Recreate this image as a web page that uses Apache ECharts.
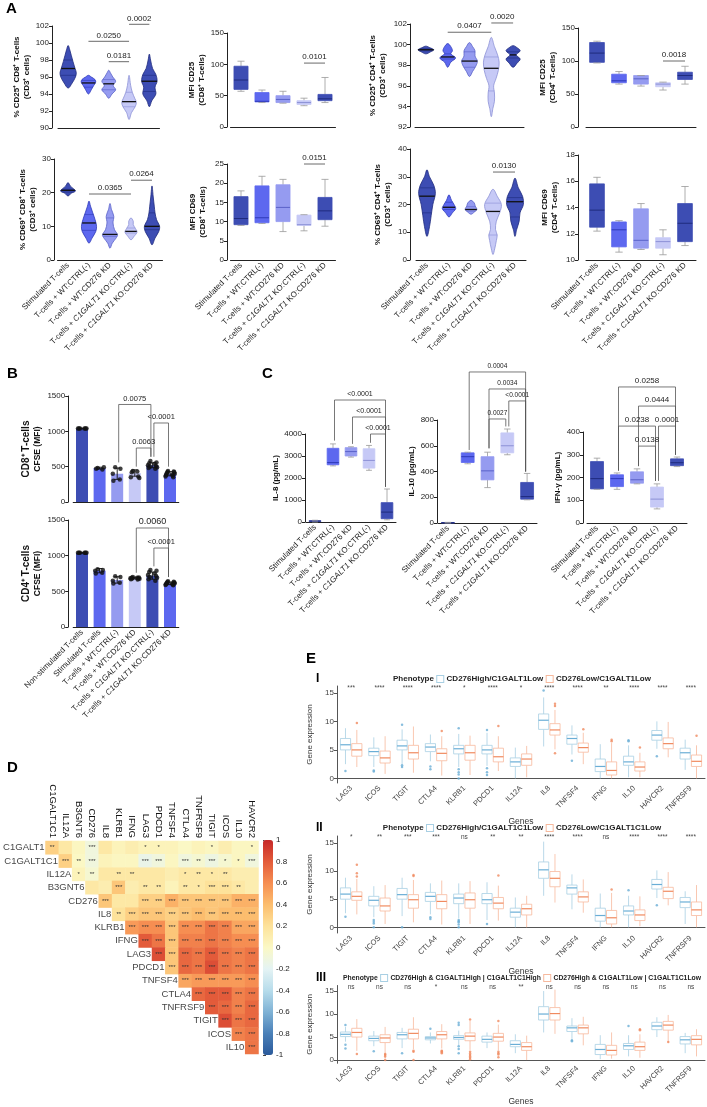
<!DOCTYPE html>
<html>
<head>
<meta charset="utf-8">
<script src="https://cdn.jsdelivr.net/npm/echarts@6/dist/echarts.min.js"></script>
<style>
html, body { margin: 0; padding: 0; background: #fff; }
#main { width: 707px; height: 1107px; }
</style>
</head>
<body>
<div id="main"></div>
<script>
const FONT = 'Liberation Sans, Arial, Helvetica, sans-serif';

// ---------- categories ----------
const groupsA = ['Stimulated T-cells', 'T-cells + WT:CTRL(-)', 'T-cells + WT:CD276 KD',
  'T-cells + {i|C1GALT1} KO:CTRL(-)', 'T-cells + {i|C1GALT1} KO:CD276 KD'];
const groupsB = ['Non-stimulated T-cells'].concat(groupsA);
const genesE = ['LAG3', 'ICOS', 'TIGIT', 'CTLA4', 'KLRB1', 'PDCD1', 'IL12A', 'IL8', 'TNFSF4', 'IFNG', 'IL10', 'HAVCR2', 'TNFRSF9'];
const colsD = ['C1GALT1C1', 'IL12A', 'B3GNT6', 'CD276', 'IL8', 'KLRB1', 'IFNG', 'LAG3', 'PDCD1', 'TNFSF4', 'CTLA4', 'TNFRSF9', 'TIGIT', 'ICOS', 'IL10', 'HAVCR2'];
const rowsD = ['C1GALT1', 'C1GALT1C1', 'IL12A', 'B3GNT6', 'CD276', 'IL8', 'KLRB1', 'IFNG', 'LAG3', 'PDCD1', 'TNFSF4', 'CTLA4', 'TNFRSF9', 'TIGIT', 'ICOS', 'IL10'];

// ---------- A: violins [min, Q1, median, Q3, max] + outline [value, relative half-width] ----------
const cd25cd8Pct = [[94.7, 96.2, 97.0, 98.0, 99.7], [94.0, 94.8, 95.3, 95.6, 96.2], [93.5, 94.5, 95.2, 95.7, 96.8], [91.0, 92.5, 93.1, 94.2, 96.2], [92.5, 94.3, 95.5, 96.2, 98.7]];
const cd25cd8Shape = [
  [[94.7, 0], [95.3, 0.5], [96, 0.9], [96.5, 1], [97, 0.85], [97.8, 0.6], [98.5, 0.4], [99.2, 0.2], [99.7, 0]],
  [[94, 0], [94.5, 0.35], [95, 0.65], [95.4, 0.9], [95.7, 0.8], [96, 0.35], [96.2, 0]],
  [[93.5, 0], [94, 0.4], [94.5, 0.85], [95, 0.55], [95.5, 0.85], [96, 0.5], [96.5, 0.2], [96.8, 0]],
  [[91, 0], [91.8, 0.3], [92.5, 0.75], [93, 0.9], [93.5, 0.7], [94.2, 0.4], [95, 0.2], [96.2, 0]],
  [[92.5, 0], [93.2, 0.3], [94, 0.8], [94.8, 0.7], [95.5, 0.95], [96.3, 0.8], [97, 0.4], [98, 0.15], [98.7, 0]]
];
const cd25cd4Pct = [[99.1, 99.4, 99.5, 99.6, 99.85], [97.8, 98.6, 98.8, 99.1, 100.1], [96.9, 97.8, 98.4, 99.3, 100.2], [93.0, 95.5, 97.7, 98.8, 100.7], [97.8, 98.7, 99.0, 99.3, 99.9]];
const cd25cd4Shape = [
  [[99.1, 0], [99.3, 0.6], [99.5, 1], [99.7, 0.5], [99.85, 0]],
  [[97.8, 0], [98.3, 0.4], [98.7, 1], [99.1, 0.4], [99.4, 0.6], [99.8, 0.4], [100.1, 0]],
  [[96.9, 0], [97.4, 0.4], [97.9, 0.8], [98.4, 1], [98.9, 0.7], [99.4, 0.7], [99.8, 0.4], [100.2, 0]],
  [[93, 0], [93.8, 0.2], [94.5, 0.4], [95.3, 0.4], [96, 0.3], [96.7, 0.6], [97.5, 0.9], [98.3, 1], [99, 0.8], [99.8, 0.4], [100.7, 0]],
  [[97.8, 0], [98.2, 0.5], [98.6, 0.9], [99, 0.4], [99.4, 0.9], [99.7, 0.5], [99.9, 0]]
];
const cd69cd8Pct = [[19, 20.2, 20.7, 21, 23], [5, 8.8, 11, 13.5, 17.5], [3.5, 7, 7.6, 12.5, 16.8], [6, 8, 8.5, 9.5, 12.5], [4.5, 9, 10, 14, 22]];
const cd69cd8Shape = [
  [[19, 0], [19.8, 0.4], [20.5, 1], [21.2, 0.7], [22, 0.3], [23, 0]],
  [[5, 0], [6.5, 0.4], [8.5, 0.9], [10, 1], [12, 0.8], [14, 0.5], [16, 0.2], [17.5, 0]],
  [[3.5, 0], [5, 0.3], [6.5, 0.8], [7.5, 1], [9, 0.6], [11, 0.4], [13, 0.5], [15, 0.2], [16.8, 0]],
  [[6, 0], [7, 0.4], [8.3, 0.8], [9.3, 0.6], [10.5, 0.3], [11.5, 0.3], [12.5, 0]],
  [[4.5, 0], [6.5, 0.4], [8.5, 0.9], [10, 1], [12, 0.6], [14, 0.4], [16, 0.3], [19, 0.15], [22, 0]]
];
const cd69cd4Pct = [[8.5, 17, 23, 26, 32.5], [15.5, 18.2, 19, 20.8, 23.5], [16.5, 17.6, 18.2, 19.2, 21.5], [2, 9, 17.5, 20.5, 25.5], [8.5, 15.5, 21, 22.5, 29.5]];
const cd69cd4Shape = [
  [[8.5, 0], [12, 0.3], [16, 0.5], [20, 0.7], [24, 1], [27, 0.8], [30, 0.3], [32.5, 0]],
  [[15.5, 0], [17, 0.4], [18.5, 0.8], [20, 0.6], [21.5, 0.3], [23.5, 0]],
  [[16.5, 0], [17.3, 0.4], [18.2, 0.7], [19.5, 0.5], [20.5, 0.4], [21.5, 0]],
  [[2, 0], [4, 0.2], [7, 0.4], [9, 0.5], [11, 0.3], [14, 0.4], [17, 0.8], [20, 1], [23, 0.5], [25.5, 0]],
  [[8.5, 0], [11, 0.2], [14, 0.5], [17, 0.6], [20, 1], [23, 0.9], [26, 0.4], [29.5, 0]]
];
// A: boxes [min, Q1, median, Q3, max]
const mfiCd25Cd8 = [[57, 60, 75, 97, 105], [39, 40, 41, 55, 59], [38, 39, 44, 50, 57], [34, 36, 39, 42, 46], [39, 42, 45, 52, 79]];
const mfiCd25Cd4 = [[97, 98, 112, 128, 130], [65, 67, 70, 80, 84], [62, 65, 73, 78, 78], [56, 61, 65, 67, 68], [65, 72, 78, 83, 92]];
const mfiCd69Cd8 = [[9, 9.2, 10.8, 16.5, 18], [9.5, 9.7, 11, 19.3, 21.8], [7.4, 10, 13.7, 19.6, 21], [7.6, 9, 9.2, 11.7, 11.8], [8.8, 10.5, 12.8, 16.3, 21]];
const mfiCd69Cd4 = [[12.2, 12.5, 13.8, 15.8, 16.3], [10.6, 11, 12.3, 12.9, 13], [10.8, 10.9, 11.5, 13.9, 14.3], [10.4, 10.9, 11.4, 11.7, 12.3], [11.1, 11.4, 12.8, 14.3, 15.6]];
// A: p-value lines [from, to, height]
const pA1 = [[1, 3, 100.2], [2, 3, 97.8], [3, 4, 102.2]], pA1Text = ['0.0250', '0.0181', '0.0002'];
const pA2 = [[3, 4, 102]], pA2Text = ['0.0101'];
const pA3 = [[1, 3, 101.2], [3, 4, 102.1]], pA3Text = ['0.0407', '0.0020'];
const pA4 = [[3, 4, 100]], pA4Text = ['0.0018'];
const pA5 = [[1, 3, 19.6], [3, 4, 23.7]], pA5Text = ['0.0365', '0.0264'];
const pA6 = [[3, 4, 25]], pA6Text = ['0.0151'];
const pA7 = [[3, 4, 31.7]], pA7Text = ['0.0130'];

// ---------- B: CFSE bars ----------
const cd8Mean = [1040, 480, 400, 410, 520, 400];
const cd8Sd = [5, 12, 80, 45, 35, 30];
const cd8Points = [[1040, 1040, 1040, 1040, 1040, 1040], [480, 490, 470, 460], [490, 470, 400, 320, 300],
  [440, 430, 420, 360, 350, 340], [580, 560, 550, 540, 520, 510, 500, 490, 480, 470],
  [440, 430, 425, 420, 410, 400, 395, 390, 380, 370, 360, 350]];
const cd4Mean = [1040, 790, 660, 685, 720, 612];
const cd4Sd = [5, 30, 45, 12, 50, 18];
const cd4Points = [[1040, 1040, 1040, 1040, 1040, 1040], [810, 800, 790, 760, 750], [710, 700, 650, 620, 610],
  [700, 695, 690, 690, 685, 680, 680, 675, 670, 665], [800, 790, 770, 750, 730, 720, 700, 690, 670, 650],
  [640, 635, 630, 625, 620, 615, 610, 605, 600, 595, 590, 585]];
// brackets [from, to, height, left leg end, right leg end]
const pB1 = [[2, 4, 1380, 560, 640], [4, 5, 1118, 640, 500], [3, 4, 764, 500, 640]], pB1Text = ['0.0075', '<0.0001', '0.0063'];
const pB2 = [[3, 5, 1388, 760, 700], [4, 5, 1107, 850, 700]], pB2Text = ['0.0060', '<0.0001'];

// ---------- C: cytokines [min, Q1, median, Q3, max] ----------
const il8 = [[0, 20, 40, 60, 80], [2550, 2600, 2700, 3350, 3550], [2950, 3000, 3200, 3380, 3420], [2350, 2450, 2800, 3330, 3480], [100, 150, 450, 880, 1500]];
const il10 = [[0, 0, 2, 4, 5], [460, 470, 515, 545, 550], [275, 335, 405, 515, 550], [530, 545, 600, 700, 730], [180, 185, 205, 315, 385]];
const ifng = [[148, 150, 195, 270, 285], [148, 160, 195, 212, 220], [172, 175, 190, 225, 238], [62, 70, 105, 158, 172], [248, 252, 265, 282, 290]];
const pC1 = [[1, 4, 5545, 3700, 1600], [2, 4, 4773, 3550, 1600], [3, 4, 4000, 3600, 1600]], pC1Text = ['<0.0001', '<0.0001', '<0.0001'];
const pC2 = [[1, 4, 1173, 567, 400], [2, 4, 1041, 580, 400], [3, 4, 948, 750, 400], [2, 3, 808, 580, 750]], pC2Text = ['0.0004', '0.0034', '<0.0001', '0.0027'];
const pC3 = [[1, 4, 598, 230, 300], [2, 4, 514, 250, 300], [1, 3, 426, 230, 185], [3, 4, 426, 185, 300], [2, 3, 338, 250, 185]], pC3Text = ['0.0258', '0.0444', '0.0238', '0.0001', '0.0138'];

// ---------- D: correlation (upper triangle, row i starts at column i) ----------
const corrD = [
  [0.3, 0.15, 0.02, -0.1, 0.15, 0.05, 0.1, 0.05, 0.05, 0.05, 0.0, 0.05, 0.02, 0.1, 0.02, 0.02],
  [0.3, 0.0, -0.1, 0.05, 0.02, 0.02, -0.15, -0.1, 0.02, -0.1, -0.05, -0.12, -0.05, 0.02, -0.1],
  [0.05, -0.05, 0.15, 0.15, 0.15, 0.15, 0.15, 0.1, 0.15, 0.15, 0.15, 0.15, 0.1, 0.1],
  [0.15, 0.1, 0.35, 0.1, 0.15, 0.15, 0.05, 0.15, 0.15, 0.2, 0.2, 0.15, 0.1],
  [0.35, 0.15, 0.15, 0.3, 0.3, 0.45, 0.35, 0.35, 0.35, 0.35, 0.45, 0.45],
  [0.2, 0.3, 0.35, 0.35, 0.3, 0.35, 0.4, 0.35, 0.4, 0.4, 0.4],
  [0.55, 0.6, 0.6, 0.35, 0.6, 0.6, 0.7, 0.65, 0.5, 0.5],
  [0.8, 0.7, 0.35, 0.65, 0.65, 0.7, 0.65, 0.6, 0.6],
  [0.85, 0.35, 0.75, 0.7, 0.8, 0.7, 0.65, 0.7],
  [0.35, 0.75, 0.7, 0.85, 0.7, 0.65, 0.7],
  [0.5, 0.55, 0.55, 0.55, 0.55, 0.6],
  [0.75, 0.8, 0.8, 0.65, 0.7],
  [0.8, 0.75, 0.65, 0.75],
  [0.85, 0.7, 0.75],
  [0.65, 0.7],
  [0.7]
];
const starsD = [
  ['**', '', '', '***', '', '', '', '*', '*', '', '', '', '*', '', '', '*'],
  ['***', '**', '***', '', '', '', '***', '***', '', '***', '**', '***', '*', '*', '***'],
  ['*', '**', '', '**', '**', '', '', '', '*', '**', '*', '**', '', ''],
  ['', '', '***', '', '**', '**', '', '**', '*', '***', '***', '**', ''],
  ['***', '', '', '***', '***', '***', '***', '***', '***', '***', '***', '***'],
  ['**', '***', '***', '***', '***', '***', '***', '***', '***', '***', '***'],
  ['***', '***', '***', '***', '***', '***', '***', '***', '***', '***'],
  ['***', '***', '***', '***', '***', '***', '***', '***', '***'],
  ['***', '***', '***', '***', '***', '***', '***', '***'],
  ['***', '***', '***', '***', '***', '***', '***'],
  ['***', '***', '***', '***', '***', '***'],
  ['***', '***', '***', '***', '***'],
  ['***', '***', '***', '***'],
  ['***', '***', '***'],
  ['***', '***'],
  ['***']
];

// ---------- E: gene expression boxes [min, Q1, median, Q3, max] ----------
const e1High = [[2.5, 5, 5.9, 7, 8.8], [2, 4, 4.7, 5.3, 7.2], [2.5, 5, 5.7, 6.7, 8.6], [3, 4.7, 5.5, 6.1, 7.7], [2, 4.3, 5.2, 5.8, 7.8], [2.2, 4.3, 5, 5.8, 8], [0, 2.1, 2.9, 3.6, 5.4], [5.6, 8.6, 10.2, 11.3, 14.2], [4.2, 6, 7, 7.6, 9.3], [0, 1.2, 2.1, 3.4, 6.0], [0.2, 2.3, 2.9, 3.9, 5.8], [5.2, 6.7, 7.6, 8.4, 10], [1.5, 3.4, 4.5, 5.3, 6.8]];
const e1Low = [[2, 3.9, 5, 6.1, 8.5], [0.8, 2.7, 3.6, 4.8, 7.4], [1, 3.4, 4.5, 5.8, 9.1], [0.5, 3.1, 4.4, 5.2, 7.4], [0.6, 3.2, 4.5, 5.8, 7.5], [1.3, 2.9, 3.8, 5.3, 7.4], [0.2, 2.3, 3.4, 4.3, 5.7], [5.1, 7.6, 8.5, 9.6, 12], [2.5, 4.6, 5.4, 6.2, 8], [0, 0.6, 1.4, 2.9, 6.2], [0.2, 1.3, 2, 2.9, 4.5], [3.7, 5.2, 6.1, 7.1, 9.9], [0, 2.1, 3, 4.1, 5.8]];
const e1HighOut = [[0, 1.3], [1, 1.2], [1, 1.4], [2, 2.0], [2, 2.3], [2, 9.4], [3, 1.6], [3, 2.1], [4, 0], [4, 0.7], [4, 1.1], [4, 1.6], [4, 8.8], [5, 0.6], [5, 1.1], [5, 1.8], [5, 8.5], [7, 15.4], [8, 3.1], [10, 6.5], [10, 6.7], [11, 3.9]];
const e1LowOut = [[0, 9.7], [3, 8.3], [5, 9.2], [7, 4.4], [7, 12.7], [7, 13.1], [8, 8.6], [9, 6.5], [9, 6.8], [10, 5.4], [12, 7.5]];
const e1Stars = ['***', '****', '****', '****', '*', '****', '*', '****', '****', '**', '****', '****', '****'];

const e2High = [[2.5, 5, 5.9, 7, 8.8], [1.8, 3.8, 4.8, 5.5, 7.3], [2, 5, 5.8, 6.9, 8.8], [2.3, 4.6, 5.5, 6.2, 7.8], [1.6, 4.2, 5.2, 5.9, 7.8], [1.3, 4.2, 4.9, 6.0, 8.0], [0, 1.8, 2.7, 3.4, 5.3], [5.6, 8.7, 10.2, 11.6, 15.2], [3.2, 5.9, 7, 7.5, 9.4], [0, 1.1, 2.1, 3.4, 6], [0, 2.2, 2.9, 3.8, 5.6], [5.2, 6.8, 7.6, 8.5, 10.1], [0.6, 3.5, 4.5, 5.3, 6.4]];
const e2Low = [[2.3, 4.8, 5.5, 6.3, 8.6], [0.6, 2.9, 3.8, 5.2, 7.5], [0.9, 3.4, 4.9, 5.8, 8.4], [0.5, 3.3, 4.6, 5.8, 8.3], [0.6, 3.4, 4.9, 6.1, 8.2], [1.2, 3.3, 4.3, 5.3, 7.4], [0, 2.2, 3.3, 4.1, 5.6], [4.4, 7.2, 8.7, 9.9, 13], [2.6, 4.5, 5.4, 6.3, 8.5], [0, 0.6, 1.7, 3.0, 6.1], [0.2, 1.2, 2.2, 3.1, 5.5], [3.9, 5.1, 6.4, 7.1, 9.8], [0, 2.1, 3.1, 4.5, 7.5]];
const e2HighOut = [[0, 1.9], [1, 0], [1, 0.7], [1, 1.0], [1, 1.3], [2, 0], [3, 1.5], [3, 1.8], [4, 0], [4, 0.5], [4, 0.9], [4, 1.1], [4, 1.3], [5, 0.6], [10, 6.6], [11, 3.9]];
const e2LowOut = [[0, 9.0], [0, 9.6], [0, 11.1], [2, 9.1], [2, 9.3], [5, 9.2], [9, 6.7]];
const e2Stars = ['*', '**', '***', '***', 'ns', '**', '**', '****', '****', 'ns', '****', '****', '****'];

const e3High = [[4, 5.1, 5.6, 6.1, 7.2], [3, 4.2, 4.7, 5.2, 6.3], [2.6, 4.6, 5.5, 6.0, 7.0], [3.6, 4.4, 4.8, 5.1, 6.0], [3.2, 4.5, 4.9, 5.3, 6.4], [2.6, 3.9, 4.5, 5.2, 6.0], [1.5, 2.9, 3.4, 4.2, 5.6], [6, 8.7, 10, 11.6, 15], [4.6, 6.2, 7.0, 7.4, 9.1], [0.2, 1.2, 2.3, 3.4, 5.4], [0.8, 2.3, 3.1, 3.6, 5.4], [5, 6.6, 7.4, 8.2, 9.3], [1.5, 3.5, 4.4, 5.1, 5.9]];
const e3Low = [[2, 5, 6, 6.9, 8.9], [0.3, 3.8, 4.8, 5.5, 7.2], [2.4, 4.6, 5.8, 6.7, 9.3], [2.5, 4.6, 5.5, 6.2, 7.8], [2.2, 4.2, 5.2, 5.9, 8.5], [2.1, 4.1, 5.0, 5.8, 7.7], [0, 2.1, 2.9, 3.8, 5.3], [5.7, 8.7, 10.1, 11.4, 15.3], [3.2, 5.7, 7.0, 7.6, 9.4], [0.3, 1.1, 2.1, 3.2, 6.0], [0.5, 2.1, 2.9, 3.9, 5.6], [3.8, 6.5, 7.6, 8.4, 9.8], [0.8, 3.3, 4.5, 5.3, 6.7]];
const e3HighOut = [[0, 2.5], [0, 3.3], [0, 7.6], [1, 1.9], [2, 1.5], [3, 6.8], [4, 1.5], [4, 2.4], [4, 3.0], [4, 7.6], [4, 8.1], [8, 4.1], [8, 4.3], [10, 7.4]];
const e3LowOut = [[0, 1.3], [1, 0], [1, 0.8], [1, 1.1], [1, 1.3], [2, 0], [2, 1.8], [2, 2.0], [3, 1.5], [3, 1.7], [3, 1.9], [3, 2.0], [4, 0.2], [4, 0.5], [4, 0.8], [4, 1.1], [4, 1.4], [4, 1.8], [4, 8.8], [5, 0.6], [5, 1.2], [5, 1.5], [5, 1.8], [5, 8.5], [10, 6.5], [10, 6.7], [11, 3.9]];
const e3Stars = ['ns', 'ns', 'ns', '*', 'ns', 'ns', '**', 'ns', 'ns', 'ns', 'ns', 'ns', 'ns'];

// ---------- colours ----------
const fillA = ['#3d4db3', '#5d68ef', '#959bf0', '#c6c9f6', '#3d4db3'];
const lineA = ['#1f2b7d', '#2f3ab8', '#5a62c8', '#8c91d6', '#1f2b7d'];
const fillB = ['#3d4db3', '#5d68ef', '#959bf0', '#c6c9f6', '#3d4db3', '#5d68ef'];
const corrColors = ['#2b5a9b', '#4a80b8', '#7fb2d5', '#b7dceb', '#e4f3f4', '#fbf8c5', '#fde29a', '#fcbd6e', '#f68e52', '#e35b3a', '#c62828'];

// ---------- builders ----------
const grid = [], xAxis = [], yAxis = [], series = [];
function addGrid(box, xa, ya) {
  const gi = grid.length;
  grid.push(box);
  xa.gridIndex = gi; ya.gridIndex = gi;
  xAxis.push(xa); yAxis.push(ya);
  return gi;
}

function prism(b, cats, labels, y) {
  return addGrid({ left: b.l, top: b.t, width: b.w, height: b.b - b.t }, {
    type: 'category', data: cats,
    axisLine: { lineStyle: { color: '#222' } },
    axisTick: { alignWithLabel: true, length: 3, lineStyle: { color: '#222' } },
    axisLabel: labels ? { interval: 0, rotate: 45, fontSize: 8, color: '#222', margin: 4, fontFamily: FONT,
      rich: { i: { fontStyle: 'italic', fontSize: 8, color: '#222', fontFamily: FONT } } } : { show: false },
    splitLine: { show: false }
  }, {
    type: 'value', min: y.min, max: y.max, interval: y.step, offset: b.off || 0,
    axisLine: { show: true, lineStyle: { color: '#222' } },
    axisTick: { show: true, length: 3, lineStyle: { color: '#222' } },
    axisLabel: { fontSize: 8, color: '#222', margin: 3, fontFamily: FONT, formatter: v => String(v) },
    splitLine: { show: false },
    name: y.name, nameLocation: 'middle', nameGap: y.gap,
    nameTextStyle: { fontSize: 8, fontWeight: 'bold', color: '#111', lineHeight: 10, fontFamily: FONT, rich: y.rich }
  });
}

function violins(gi, stats, shapes, half) {
  series.push({
    type: 'custom', xAxisIndex: gi, yAxisIndex: gi, z: 3, silent: true,
    data: stats.map((s, i) => [i].concat(s)),
    renderItem(params, api) {
      const k = params.dataIndex;
      const i = api.value(0);
      const band = api.size([1, 0])[0];
      const cx = api.coord([i, 0])[0];
      const w = band * half;
      const sh = shapes[k];
      const yy = v => api.coord([i, v])[1];
      const right = sh.map(p => [cx + p[1] * w, yy(p[0])]);
      const left = sh.slice(1, -1).reverse().map(p => [cx - p[1] * w, yy(p[0])]);
      const widthAt = v => {
        for (let j = 1; j < sh.length; j++) {
          if (v <= sh[j][0]) {
            const a = sh[j - 1], c = sh[j];
            const t = (v - a[0]) / (c[0] - a[0]);
            return (a[1] + t * (c[1] - a[1])) * w;
          }
        }
        return 0;
      };
      const hl = (v, col, lw) => {
        const h = widthAt(v);
        return { type: 'line', shape: { x1: cx - h, y1: yy(v), x2: cx + h, y2: yy(v) }, style: { stroke: col, lineWidth: lw } };
      };
      return { type: 'group', children: [
        { type: 'polygon', shape: { points: right.concat(left), smooth: 0.35 }, style: { fill: fillA[k], stroke: lineA[k], lineWidth: 0.8 } },
        hl(api.value(2), lineA[k], 0.6), hl(api.value(4), lineA[k], 0.6), hl(api.value(3), '#111', 1.3)
      ] };
    }
  });
}

function boxes(gi, stats, st) {
  series.push({
    type: 'custom', xAxisIndex: gi, yAxisIndex: gi, z: 3, silent: true,
    data: stats.map((s, i) => [i].concat(s)),
    renderItem(params, api) {
      const k = params.dataIndex;
      const pick = v => Array.isArray(v) ? v[k] : v;
      const i = api.value(0);
      const band = api.size([1, 0])[0];
      const cx = api.coord([i, 0])[0] + (st.shift || 0) * band;
      const hw = band * st.width / 2;
      const y = d => api.coord([i, api.value(d)])[1];
      const yMin = y(1), yQ1 = y(2), yMed = y(3), yQ3 = y(4), yMax = y(5);
      const ws = { stroke: pick(st.whisker), lineWidth: 0.8 };
      const ch = [
        { type: 'line', shape: { x1: cx, y1: yQ3, x2: cx, y2: yMax }, style: ws },
        { type: 'line', shape: { x1: cx, y1: yQ1, x2: cx, y2: yMin }, style: ws },
        { type: 'rect', shape: { x: cx - hw, y: yQ3, width: 2 * hw, height: Math.max(yQ1 - yQ3, 0.5) },
          style: { fill: pick(st.fill), stroke: pick(st.border), lineWidth: 0.8 } },
        { type: 'line', shape: { x1: cx - hw, y1: yMed, x2: cx + hw, y2: yMed }, style: { stroke: pick(st.median), lineWidth: st.medW || 1 } }
      ];
      if (st.caps) {
        const c = hw * 0.5;
        ch.push({ type: 'line', shape: { x1: cx - c, y1: yMax, x2: cx + c, y2: yMax }, style: ws });
        ch.push({ type: 'line', shape: { x1: cx - c, y1: yMin, x2: cx + c, y2: yMin }, style: ws });
      }
      return { type: 'group', children: ch };
    }
  });
}

function brackets(gi, items, texts, fs, legs) {
  series.push({
    type: 'custom', xAxisIndex: gi, yAxisIndex: gi, z: 4, silent: true, clip: false,
    data: items.map(d => legs ? d : [d[0], d[1], d[2], d[2], d[2]]),
    renderItem(params, api) {
      const k = params.dataIndex;
      const x1 = api.coord([api.value(0), 0])[0] + (legs ? 1.5 : 0);
      const x2 = api.coord([api.value(1), 0])[0] - (legs ? 1.5 : 0);
      const yT = api.coord([0, api.value(2)])[1];
      const l1 = api.coord([0, api.value(3)])[1];
      const l2 = api.coord([0, api.value(4)])[1];
      const f = Array.isArray(fs) ? fs[k] : fs;
      return { type: 'group', children: [
        { type: 'polyline', shape: { points: [[x1, l1], [x1, yT], [x2, yT], [x2, l2]] }, style: { stroke: legs ? '#555' : '#444', lineWidth: 0.8, fill: 'none' } },
        { type: 'text', style: { text: texts[k], x: (x1 + x2) / 2, y: yT - 2, align: 'center', verticalAlign: 'bottom', fontSize: f, fontFamily: FONT, fill: '#222' } }
      ] };
    }
  });
}

// ---------- panel A ----------
const gA1 = prism({ l: 58, t: 26, w: 101.5, b: 128, off: 6 }, groupsA, false, { min: 90, max: 102, step: 2, name: '% CD25⁺ CD8⁺ T-cells\n(CD3⁺ cells)', gap: 16 });
violins(gA1, cd25cd8Pct, cd25cd8Shape, 0.4);
brackets(gA1, pA1, pA1Text, 8, false);

const gA2 = prism({ l: 230.5, t: 33, w: 105, b: 127, off: 3.5 }, groupsA, false, { min: 0, max: 150, step: 50, name: 'MFI CD25\n(CD8⁺ T-cells)', gap: 19 });
boxes(gA2, mfiCd25Cd8, { width: 0.67, fill: fillA, border: fillA, median: lineA, whisker: '#999', caps: true });
brackets(gA2, pA2, pA2Text, 8, false);

const gA3 = prism({ l: 415, t: 24, w: 109, b: 127, off: 5 }, groupsA, false, { min: 92, max: 102, step: 2, name: '% CD25⁺ CD4⁺ T-cells\n(CD3⁺ cells)', gap: 22 });
violins(gA3, cd25cd4Pct, cd25cd4Shape, 0.36);
brackets(gA3, pA3, pA3Text, 8, false);

const gA4 = prism({ l: 586, t: 28, w: 110, b: 127, off: 8 }, groupsA, false, { min: 0, max: 150, step: 50, name: 'MFI CD25\n(CD4⁺ T-cells)', gap: 16 });
boxes(gA4, mfiCd25Cd4, { width: 0.67, fill: fillA, border: fillA, median: lineA, whisker: '#999', caps: true });
brackets(gA4, pA4, pA4Text, 8, false);

const gA5 = prism({ l: 57.5, t: 159, w: 105, b: 260, off: 3.5 }, groupsA, true, { min: 0, max: 30, step: 10, name: '% CD69⁺ CD8⁺ T-cells\n(CD3⁺ cells)', gap: 16 });
violins(gA5, cd69cd8Pct, cd69cd8Shape, 0.36);
brackets(gA5, pA5, pA5Text, 8, false);

const gA6 = prism({ l: 230.5, t: 164, w: 105, b: 260, off: 3.5 }, groupsA, true, { min: 0, max: 25, step: 5, name: 'MFI CD69\n(CD8⁺ T-cells)', gap: 19 });
boxes(gA6, mfiCd69Cd8, { width: 0.67, fill: fillA, border: fillA, median: lineA, whisker: '#999', caps: true });
brackets(gA6, pA6, pA6Text, 8, false);

const gA7 = prism({ l: 416, t: 149, w: 110, b: 260, off: 6 }, groupsA, true, { min: 0, max: 40, step: 10, name: '% CD69⁺ CD4⁺ T-cells\n(CD3⁺ cells)', gap: 17 });
violins(gA7, cd69cd4Pct, cd69cd4Shape, 0.38);
brackets(gA7, pA7, pA7Text, 8, false);

const gA8 = prism({ l: 586, t: 155, w: 110, b: 260, off: 8 }, groupsA, true, { min: 10, max: 18, step: 2, name: 'MFI CD69\n(CD4⁺ T-cells)', gap: 18 });
boxes(gA8, mfiCd69Cd4, { width: 0.67, fill: fillA, border: fillA, median: lineA, whisker: '#999', caps: true });

// ---------- panel B ----------
function cfsePanel(gi, means, sd, pts) {
  series.push({
    type: 'bar', xAxisIndex: gi, yAxisIndex: gi, barWidth: '68%', silent: true,
    data: means.map((v, i) => ({ value: v, itemStyle: { color: fillB[i] } }))
  });
  series.push({
    type: 'custom', xAxisIndex: gi, yAxisIndex: gi, z: 4, silent: true,
    data: means.map((v, i) => [i, v, sd[i]]),
    renderItem(params, api) {
      const i = api.value(0), m = api.value(1), s = api.value(2);
      const top = api.coord([i, m + s]), bot = api.coord([i, m - s]);
      const st = { stroke: '#111', lineWidth: 0.9 };
      return { type: 'group', children: [
        { type: 'line', shape: { x1: top[0], y1: top[1], x2: bot[0], y2: bot[1] }, style: st },
        { type: 'line', shape: { x1: top[0] - 3, y1: top[1], x2: top[0] + 3, y2: top[1] }, style: st },
        { type: 'line', shape: { x1: bot[0] - 3, y1: bot[1], x2: bot[0] + 3, y2: bot[1] }, style: st }
      ] };
    }
  });
  const data = [];
  pts.forEach((g, i) => g.forEach((v, k) => {
    const dx = g.length > 1 ? (k % 2 ? 1 : -1) * (2 + 3 * ((k * 7) % g.length) / g.length) : 0;
    data.push({ value: [i, v], symbolOffset: [dx, 0] });
  }));
  series.push({ type: 'scatter', xAxisIndex: gi, yAxisIndex: gi, z: 5, silent: true, symbolSize: 4.5, itemStyle: { color: '#111' }, data });
}
const gB1 = prism({ l: 73.2, t: 396, w: 105.6, b: 502, off: 5 }, groupsB, false, { min: 0, max: 1500, step: 500,
  name: '{a|CD8⁺ T-cells}\n{b|CFSE (MFI)}', gap: 24, rich: { a: { fontSize: 10, fontWeight: 'bold', fontFamily: FONT, lineHeight: 12 }, b: { fontSize: 8.5, fontWeight: 'bold', fontFamily: FONT, lineHeight: 11 } } });
cfsePanel(gB1, cd8Mean, cd8Sd, cd8Points);
brackets(gB1, pB1, pB1Text, 7.5, true);

const gB2 = prism({ l: 73.2, t: 520, w: 105.6, b: 627, off: 5 }, groupsB, true, { min: 0, max: 1500, step: 500,
  name: '{a|CD4⁺ T-cells}\n{b|CFSE (MFI)}', gap: 24, rich: { a: { fontSize: 10, fontWeight: 'bold', fontFamily: FONT, lineHeight: 12 }, b: { fontSize: 8.5, fontWeight: 'bold', fontFamily: FONT, lineHeight: 11 } } });
cfsePanel(gB2, cd4Mean, cd4Sd, cd4Points);
brackets(gB2, pB2, pB2Text, [9, 7.5], true);

// ---------- panel C ----------
const gC1 = prism({ l: 306, t: 434, w: 90, b: 522, off: 1 }, groupsA, true, { min: 0, max: 4000, step: 1000, name: 'IL-8 (pg/mL)', gap: 22 });
boxes(gC1, il8, { width: 0.65, fill: fillA, border: fillA, median: lineA, whisker: '#999', caps: true });
brackets(gC1, pC1, pC1Text, 7, true);

const gC2 = prism({ l: 438, t: 420, w: 99, b: 523, off: 1 }, groupsA, true, { min: 0, max: 800, step: 200, name: 'IL-10 (pg/mL)', gap: 16 });
boxes(gC2, il10, { width: 0.65, fill: fillA, border: fillA, median: lineA, whisker: '#999', caps: true });
brackets(gC2, pC2, pC2Text, 6.5, true);

const gC3 = prism({ l: 587, t: 432, w: 100, b: 523, off: 4 }, groupsA, true, { min: 0, max: 400, step: 100, name: 'IFN-γ (pg/mL)', gap: 20 });
boxes(gC3, ifng, { width: 0.65, fill: fillA, border: fillA, median: lineA, whisker: '#999', caps: true });
brackets(gC3, pC3, pC3Text, 8, true);

// ---------- panel D ----------
const gD = addGrid({ left: 45.5, top: 841, width: 213, height: 213 }, {
  type: 'category', data: colsD, position: 'top',
  axisLine: { show: false }, axisTick: { show: false }, splitLine: { show: false },
  axisLabel: { interval: 0, rotate: 90, fontSize: 9.5, color: '#111', margin: 3, fontFamily: FONT }
}, {
  type: 'category', data: rowsD, inverse: true,
  axisLine: { show: false }, axisTick: { show: false }, axisLabel: { show: false }, splitLine: { show: false }
});
const heatData = [];
corrD.forEach((row, r) => row.forEach((v, k) => {
  heatData.push({ value: [r + k, r, v], label: { formatter: starsD[r][k] || ' ' } });
}));
const heatIdx = series.length;
series.push({
  type: 'heatmap', xAxisIndex: gD, yAxisIndex: gD, data: heatData, silent: true,
  itemStyle: { borderWidth: 0 },
  label: { show: true, fontSize: 6, color: '#333', fontFamily: FONT }
});
series.push({
  type: 'scatter', xAxisIndex: gD, yAxisIndex: gD, silent: true, symbolSize: 1, itemStyle: { color: 'transparent' },
  data: rowsD.map((r, i) => [i, i]),
  label: { show: true, position: 'left', distance: 7, formatter: p => rowsD[p.dataIndex], fontSize: 9.5, color: '#111', fontFamily: FONT }
});
addGrid({ left: 263, top: 840, width: 10, height: 215 }, { type: 'value', show: false, min: 0, max: 1 }, {
  type: 'value', position: 'right', min: -1, max: 1, interval: 0.2,
  axisLine: { show: false }, axisTick: { show: true, length: 3, lineStyle: { color: '#444' } }, splitLine: { show: false },
  axisLabel: { fontSize: 8, color: '#222', margin: 3, fontFamily: FONT, formatter: v => String(Math.round(v * 10) / 10) }
});

// ---------- panel E ----------
function ePanel(t, b, yMin) {
  return addGrid({ left: 337, top: t, width: 368, height: b - t }, {
    type: 'category', data: genesE,
    axisLine: { lineStyle: { color: '#555' } },
    axisTick: { alignWithLabel: true, length: 3, lineStyle: { color: '#555' } },
    axisLabel: { interval: 0, rotate: 45, fontSize: 7.5, color: '#444', margin: 4, fontFamily: FONT },
    name: 'Genes', nameLocation: 'middle', nameGap: 24, nameTextStyle: { fontSize: 8.5, color: '#333', fontFamily: FONT }
  }, {
    type: 'value', min: yMin, max: 16.2,
    axisLine: { show: true, lineStyle: { color: '#555' } },
    axisTick: { show: true, length: 3, customValues: [0, 5, 10, 15], lineStyle: { color: '#555' } },
    axisLabel: { customValues: [0, 5, 10, 15], fontSize: 8, color: '#444', margin: 3, fontFamily: FONT },
    splitLine: { show: false },
    name: 'Gene expression', nameLocation: 'middle', nameGap: 11, nameTextStyle: { fontSize: 8, color: '#333', fontFamily: FONT }
  });
}
function eSeries(gi, high, low, highOut, lowOut, stars) {
  boxes(gi, high, { width: 0.36, shift: -0.2, fill: '#fff', border: '#a8cfe3', median: '#6aaed6', whisker: '#a8cfe3', medW: 1.2 });
  boxes(gi, low, { width: 0.36, shift: 0.2, fill: '#fff', border: '#f7b99d', median: '#f08a5f', whisker: '#f7b99d', medW: 1.2 });
  series.push({ type: 'scatter', xAxisIndex: gi, yAxisIndex: gi, silent: true, symbolSize: 2.5, symbolOffset: [-5.7, 0], itemStyle: { color: '#6aaed6' }, data: highOut, z: 4 });
  series.push({ type: 'scatter', xAxisIndex: gi, yAxisIndex: gi, silent: true, symbolSize: 2.5, symbolOffset: [5.7, 0], itemStyle: { color: '#f08a5f' }, data: lowOut, z: 4 });
  series.push({
    type: 'custom', xAxisIndex: gi, yAxisIndex: gi, silent: true, clip: false,
    data: stars.map((s, i) => [i, 15.9]),
    renderItem(params, api) {
      const p = api.coord([api.value(0), api.value(1)]);
      return { type: 'text', style: { text: stars[params.dataIndex], x: p[0], y: p[1], align: 'center', verticalAlign: 'middle', fontSize: 6.5, fill: '#444', fontFamily: FONT } };
    }
  });
}
const gE1 = ePanel(686, 783, -0.8);
eSeries(gE1, e1High, e1Low, e1HighOut, e1LowOut, e1Stars);
const gE2 = ePanel(836, 933, -1);
eSeries(gE2, e2High, e2Low, e2HighOut, e2LowOut, e2Stars);
const gE3 = ePanel(985.5, 1075.5, -0.7);
eSeries(gE3, e3High, e3Low, e3HighOut, e3LowOut, e3Stars);

// ---------- text ----------
function letter(t, x, y, fs) {
  return { type: 'text', x, y, silent: true, style: { text: t, fontSize: fs || 15, fontWeight: 'bold', fill: '#000', fontFamily: FONT, align: 'left', verticalAlign: 'top' } };
}
function legend(y, a, b, fs) {
  const box = c => ({ width: 6, height: 6, borderColor: c, borderWidth: 1, backgroundColor: '#fff' });
  const ts = { fontSize: fs, fontWeight: 'bold', fill: '#222', fontFamily: FONT };
  return { type: 'text', x: 522, y, silent: true, style: {
    text: '{p|Phenotype} {bx| } {t|' + a + '} {ox| } {t|' + b + '}', align: 'center', verticalAlign: 'middle',
    rich: { p: ts, t: ts, bx: box('#a8cfe3'), ox: box('#f7b99d') } } };
}
const graphic = [
  letter('A', 6, 1), letter('B', 7, 366), letter('C', 262, 366), letter('D', 7, 760), letter('E', 306, 651),
  letter('I', 316, 673, 12), letter('II', 316, 822, 12), letter('III', 316, 972, 12),
  legend(679, 'CD276High/C1GALT1Low', 'CD276Low/C1GALT1Low', 8),
  legend(828, 'CD276High/C1GALT1C1Low', 'CD276Low/C1GALT1C1Low', 8),
  legend(978, 'CD276High & C1GALT1High | C1GALT1C1High', 'CD276High & C1GALT1Low | C1GALT1C1Low', 6.8)
];

const chart = echarts.init(document.getElementById('main'));
chart.setOption({
  animation: false,
  backgroundColor: '#fff',
  textStyle: { fontFamily: FONT },
  grid, xAxis, yAxis, series, graphic,
  visualMap: [{
    type: 'continuous', min: -1, max: 1, seriesIndex: heatIdx, dimension: 2,
    orient: 'vertical', left: 263, top: 840, itemWidth: 10, itemHeight: 215, padding: 0,
    text: ['', ''], showLabel: false, calculable: false, hoverLink: false,
    inRange: { color: corrColors }
  }]
});
</script>
</body>
</html>
